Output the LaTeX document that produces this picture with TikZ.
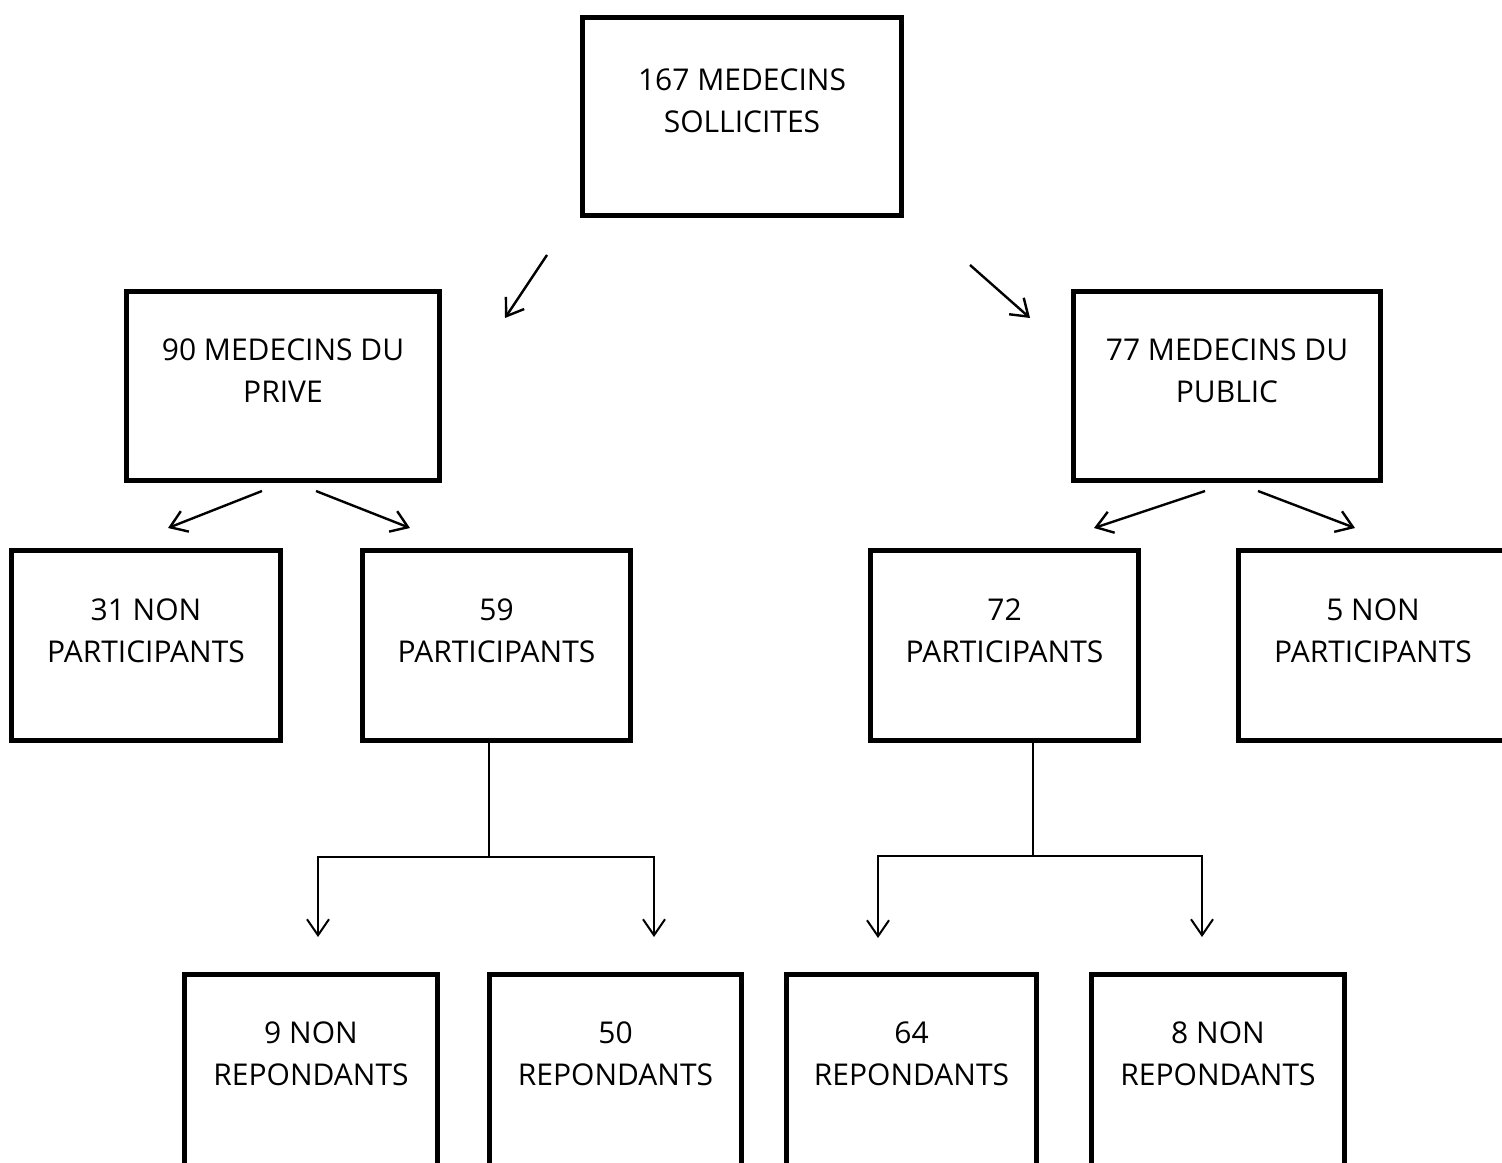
\documentclass[tikz,border=0pt]{standalone}
\usepackage{fontspec}
\setmainfont{Open Sans}
\usetikzlibrary{positioning,arrows.meta}

\begin{document}
\begin{tikzpicture}[x=0.5pt,y=-0.5pt,
  boite/.style={draw=black,line width=2.9pt,rectangle,inner sep=0pt},
  texte/.style={align=center,inner sep=0pt,font=\fontsize{15}{21}\selectfont},
  fleche/.style={line width=1.2pt,-{Straight Barb[length=8pt,width=11pt]}},
  trait/.style={line width=1pt}]
\useasboundingbox (0,0) rectangle (1502,1162);

% niveau 1
\node[boite,minimum width=159.5pt,minimum height=99pt] (sollicites) at (742,116.5) {};
\node[texte,below=27pt of sollicites.north] (tsollicites) {167 MEDECINS\\SOLLICITES};

% niveau 2
\node[boite,minimum width=156.5pt,minimum height=94.5pt] (prive) at (283,386) {};
\node[texte,below=25pt of prive.north] (tprive) {90 MEDECINS DU\\PRIVE};
\node[boite,minimum width=153.5pt,minimum height=94.5pt] (public) at (1227,386) {};
\node[texte,below=25pt of public.north] (tpublic) {77 MEDECINS DU\\PUBLIC};

% niveau 3
\node[boite,minimum width=134.5pt,minimum height=95pt] (npriv) at (146,645.5) {};
\node[texte,below=25.5pt of npriv.north] (tnpriv) {31 NON\\PARTICIPANTS};
\node[boite,minimum width=134pt,minimum height=95pt] (ppriv) at (496.5,645.5) {};
\node[texte,below=25.5pt of ppriv.north] (tppriv) {59\\PARTICIPANTS};
\node[boite,minimum width=134pt,minimum height=95pt] (ppub) at (1004.5,645.5) {};
\node[texte,below=25.5pt of ppub.north] (tppub) {72\\PARTICIPANTS};
\node[boite,minimum width=134.5pt,minimum height=95pt] (npub) at (1373,645.5) {};
\node[texte,below=25.5pt of npub.north] (tnpub) {5 NON\\PARTICIPANTS};

% niveau 4
\node[boite,minimum width=126.5pt,minimum height=99pt] (nrpriv) at (311,1073.5) {};
\node[texte,below=25pt of nrpriv.north] (tnrpriv) {9 NON\\REPONDANTS};
\node[boite,minimum width=126pt,minimum height=99pt] (rpriv) at (615.5,1073.5) {};
\node[texte,below=25pt of rpriv.north] (trpriv) {50\\REPONDANTS};
\node[boite,minimum width=125pt,minimum height=99pt] (rpub) at (911.5,1073.5) {};
\node[texte,below=25pt of rpub.north] (trpub) {64\\REPONDANTS};
\node[boite,minimum width=126.5pt,minimum height=99pt] (nrpub) at (1218,1073.5) {};
\node[texte,below=25pt of nrpub.north] (tnrpub) {8 NON\\REPONDANTS};

% fleches obliques
\coordinate (d1) at (547,255); \coordinate (f1) at (505,318);
\coordinate (d2) at (970,265); \coordinate (f2) at (1030,318);
\coordinate (d3) at (262,491); \coordinate (f3) at (168,528);
\coordinate (d4) at (316,491); \coordinate (f4) at (410,528);
\coordinate (d5) at (1205,491); \coordinate (f5) at (1094,528);
\coordinate (d6) at (1258,491); \coordinate (f6) at (1355,528);
\foreach \i in {1,...,6}
\draw[fleche] (d\i) -- (f\i);

% branches vers les repondants
\coordinate (jpriv) at (489,857);
\coordinate (apriv) at (318,937);
\coordinate (bpriv) at (654,937);
\draw[trait] (jpriv |- ppriv.south) -- (jpriv);
\draw[fleche,line width=1pt] (jpriv) -| (apriv);
\draw[fleche,line width=1pt] (jpriv) -| (bpriv);

\coordinate (jpub) at (1033,856);
\coordinate (apub) at (878,938);
\coordinate (bpub) at (1202,937);
\draw[trait] (jpub |- ppub.south) -- (jpub);
\draw[fleche,line width=1pt] (jpub) -| (apub);
\draw[fleche,line width=1pt] (jpub) -| (bpub);
\end{tikzpicture}
\end{document}
